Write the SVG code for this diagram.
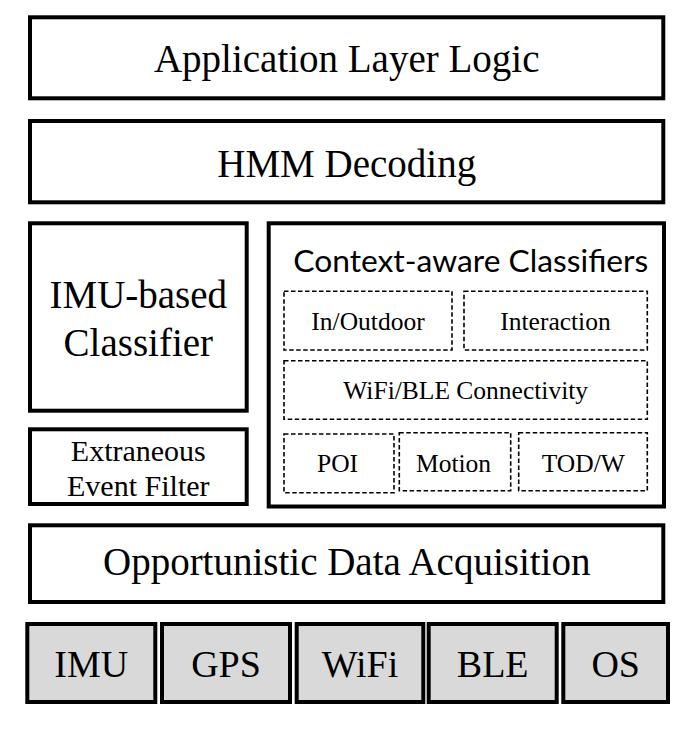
<svg xmlns="http://www.w3.org/2000/svg" width="684" height="734" viewBox="0 0 684 734">
<style>
  .box { fill: #ffffff; stroke: #000000; stroke-width: 4; }
  .src { fill: #d9d9d9; stroke: #000000; stroke-width: 4; }
  .dash { fill: none; stroke: #000000; stroke-width: 1.6; stroke-dasharray: 4.5 2.5; }
  .t { font-family: "Liberation Serif", "Times New Roman", serif; fill: #000000; text-anchor: middle; }
  .big { font-size: 39px; }
  .mid { font-size: 30px; }
  .sm { font-size: 25.5px; }
  .src-t { font-size: 38px; }
  .sans { font-family: Lato, "Open Sans", "Liberation Sans", sans-serif; font-size: 30px; fill: #000000; }
</style>
<rect width="684" height="734" fill="#ffffff"/>
<g id="app-layer">
  <rect class="box" x="30" y="17.3" width="633.3" height="81"/>
  <text class="t big" x="346.7" y="71.7">Application Layer Logic</text>
</g>
<g id="hmm">
  <rect class="box" x="30" y="121" width="633.3" height="81.3"/>
  <text class="t big" x="346.7" y="176.7">HMM Decoding</text>
</g>
<g id="imu-classifier">
  <rect class="box" x="30" y="223.3" width="216.7" height="187.4"/>
  <text class="t big" x="138.3" y="308.3">IMU-based</text>
  <text class="t big" x="138.3" y="356">Classifier</text>
</g>
<g id="extraneous">
  <rect class="box" x="30" y="429.3" width="216.7" height="74.7"/>
  <text class="t mid" x="138.3" y="460.7">Extraneous</text>
  <text class="t mid" x="138.3" y="496">Event Filter</text>
</g>
<g id="context">
  <rect class="box" x="268.7" y="223.3" width="395.3" height="283.2"/>
  <text class="sans" x="293.3" y="271.7" textLength="355" lengthAdjust="spacingAndGlyphs">Context-aware Classifiers</text>
</g>
<g id="inoutdoor">
  <rect class="dash" x="284" y="291.3" width="168" height="58.7"/>
  <text class="t sm" x="368" y="330">In/Outdoor</text>
</g>
<g id="interaction">
  <rect class="dash" x="464" y="291.3" width="183.3" height="58.7"/>
  <text class="t sm" x="555.5" y="330">Interaction</text>
</g>
<g id="connectivity">
  <rect class="dash" x="284" y="360.7" width="363.3" height="58.6"/>
  <text class="t sm" x="465.7" y="399.3">WiFi/BLE Connectivity</text>
</g>
<g id="poi">
  <rect class="dash" x="284" y="434" width="110" height="58.7"/>
  <text class="t sm" x="337.5" y="471.7">POI</text>
</g>
<g id="motion">
  <rect class="dash" x="399.3" y="432.7" width="111.4" height="58"/>
  <text class="t sm" x="453.5" y="471.7">Motion</text>
</g>
<g id="todw">
  <rect class="dash" x="518.7" y="432.7" width="128.6" height="58"/>
  <text class="t sm" x="583.3" y="471.7">TOD/W</text>
</g>
<g id="acquisition">
  <rect class="box" x="30" y="525.3" width="633.3" height="76.7"/>
  <text class="t big" x="346.7" y="575">Opportunistic Data Acquisition</text>
</g>
<g id="src-imu">
  <rect class="src" x="27.3" y="624" width="128" height="78"/>
  <text class="t src-t" x="91.3" y="676.7">IMU</text>
</g>
<g id="src-gps">
  <rect class="src" x="162" y="624" width="128" height="78"/>
  <text class="t src-t" x="226" y="676.7">GPS</text>
</g>
<g id="src-wifi">
  <rect class="src" x="296.7" y="624" width="126.6" height="78"/>
  <text class="t src-t" x="360" y="676.7">WiFi</text>
</g>
<g id="src-ble">
  <rect class="src" x="428.7" y="624" width="128" height="78"/>
  <text class="t src-t" x="492.7" y="676.7">BLE</text>
</g>
<g id="src-os">
  <rect class="src" x="563.3" y="624" width="104.7" height="78"/>
  <text class="t src-t" x="615.7" y="676.7">OS</text>
</g>
<g id="connectors"></g>
</svg>
